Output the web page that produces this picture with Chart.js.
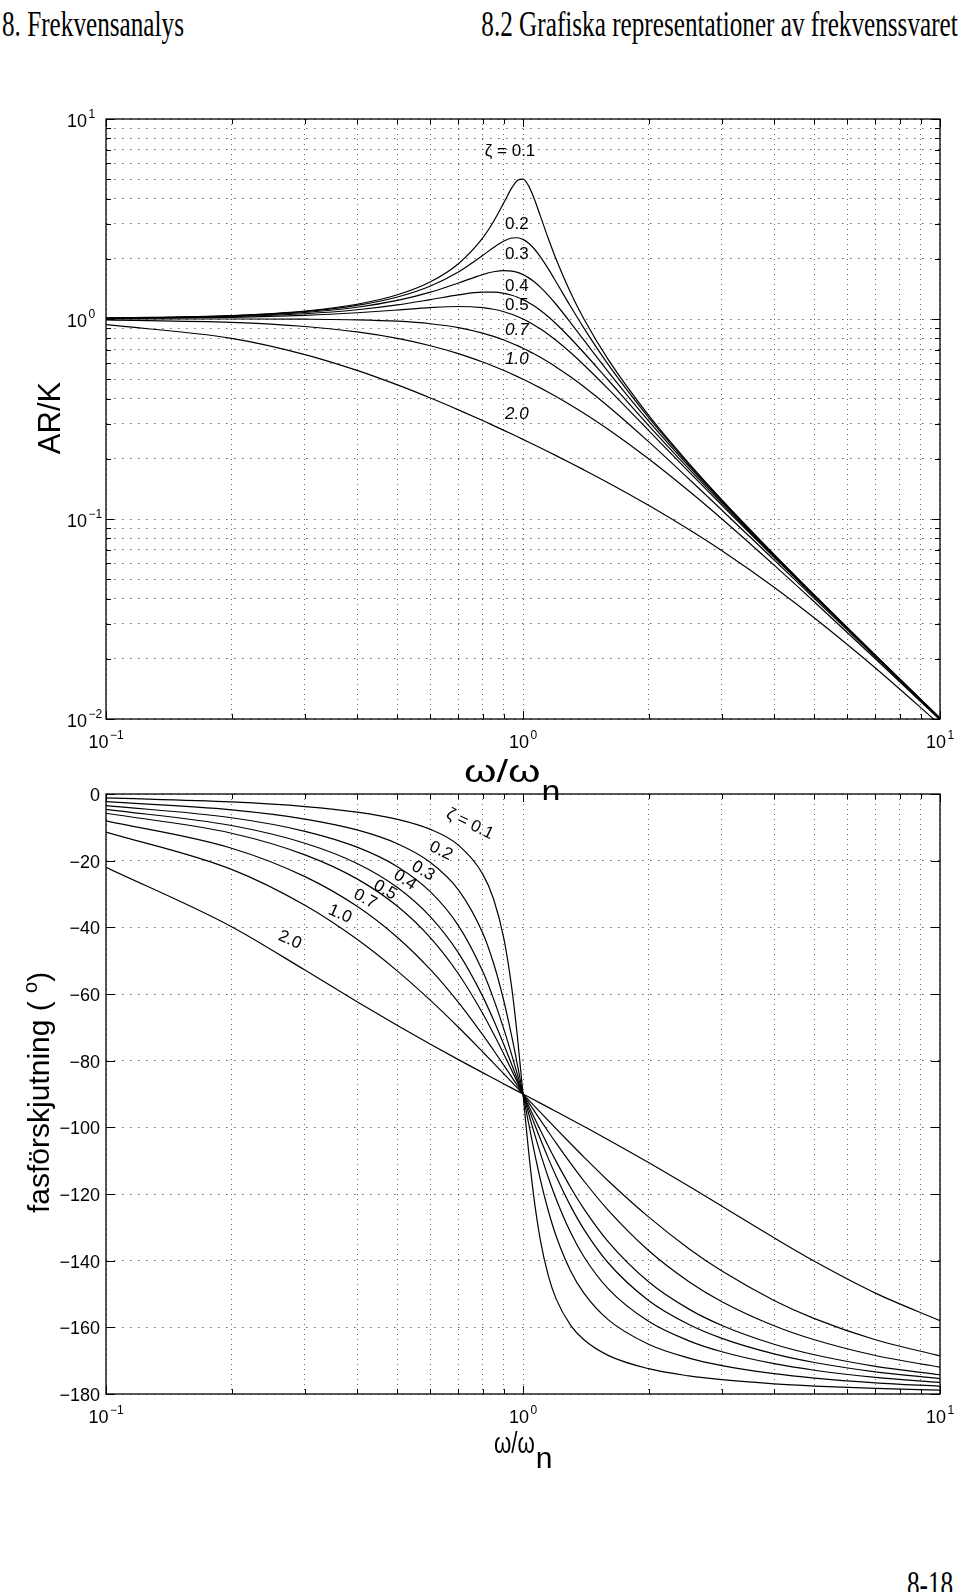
<!DOCTYPE html>
<html>
<head>
<meta charset="utf-8">
<script src="https://cdn.jsdelivr.net/npm/chart.js@4.4.1/dist/chart.umd.min.js"></script>
<style>
html, body { margin: 0; padding: 0; background: #fff; }
body { width: 960px; height: 1592px; position: relative; overflow: hidden; }
canvas { position: absolute; left: 0; }
#top { top: 0; }
#bot { top: 760px; }
.hd { position: absolute; font-family: "Liberation Serif", "Times New Roman", serif; font-size: 35px; line-height: 35px; white-space: nowrap; color: #000; }
#hl { left: 2px; top: 7px; transform: scaleX(0.72); transform-origin: left top; }
#hr { right: 2px; top: 7px; transform: scaleX(0.72); transform-origin: right top; }
#ft { right: 7px; top: 1567px; transform: scaleX(0.72); transform-origin: right top; }
</style>
</head>
<body>
<div class="hd" id="hl">8. Frekvensanalys</div>
<div class="hd" id="hr">8.2 Grafiska representationer av frekvenssvaret</div>
<canvas id="bot" width="960" height="780"></canvas>
<canvas id="top" width="960" height="800"></canvas>
<div class="hd" id="ft">8-18</div>
<script>
// frequency ratio w/wn
const freq = [0.1, 0.2, 0.3, 0.4, 0.5, 0.6, 0.7, 0.8, 0.85, 0.9, 0.94, 0.97, 1.0, 1.03, 1.06, 1.1, 1.15, 1.2, 1.3, 1.4, 1.6, 2, 2.5, 3, 4, 5, 7, 10];
const zetas = ['0.1', '0.2', '0.3', '0.4', '0.5', '0.7', '1.0', '2.0'];

// AR/K
const ar01 = [1.0099, 1.0408, 1.0965, 1.1851, 1.3216, 1.5357, 1.8908, 2.5384, 3.0728, 3.8208, 4.5225, 4.9309, 5.0, 4.6552, 4.0750, 3.2880, 2.5245, 1.9952, 1.3562, 1.0, 0.62795, 0.33041, 0.18962, 0.12465, 0.066572, 0.041631, 0.020824, 0.010099];
const ar02 = [1.0093, 1.0381, 1.0895, 1.1695, 1.2883, 1.4630, 1.7188, 2.0761, 2.2786, 2.4566, 2.5406, 2.5479, 2.5, 2.4011, 2.2642, 2.0511, 1.7800, 1.5357, 1.1574, 0.89977, 0.59306, 0.32208, 0.18711, 0.12362, 0.066291, 0.041523, 0.020798, 0.010093];
const ar03 = [1.0082, 1.0336, 1.0780, 1.1447, 1.2380, 1.3618, 1.5136, 1.6667, 1.7223, 1.7469, 1.7364, 1.7094, 1.6667, 1.6103, 1.5435, 1.4438, 1.3129, 1.1851, 0.96026, 0.78393, 0.54593, 0.30949, 0.18315, 0.12195, 0.065830, 0.041345, 0.020754, 0.010082];
const ar04 = [1.0068, 1.0275, 1.0626, 1.1125, 1.1765, 1.25, 1.3203, 1.3618, 1.3616, 1.3429, 1.3141, 1.2849, 1.25, 1.2103, 1.1669, 1.1053, 1.0258, 0.94694, 0.80123, 0.67790, 0.49556, 0.29412, 0.17800, 0.11973, 0.065199, 0.041099, 0.020693, 0.010068];
const ar05 = [1.0050, 1.0198, 1.0436, 1.0748, 1.1094, 1.1399, 1.1546, 1.1399, 1.1184, 1.0871, 1.0558, 1.0290, 1.0, 0.96918, 0.93705, 0.89296, 0.83727, 0.78240, 0.67945, 0.58909, 0.44750, 0.27735, 0.17197, 0.11704, 0.064416, 0.040791, 0.020615, 0.010050];
const ar07 = [1.0002, 1.0, 0.99776, 0.99054, 0.97474, 0.94694, 0.90518, 0.85003, 0.81838, 0.78478, 0.75692, 0.73568, 0.71429, 0.69286, 0.67153, 0.64340, 0.60902, 0.57582, 0.51377, 0.45820, 0.36634, 0.24369, 0.15848, 0.11067, 0.062456, 0.04, 0.020412, 0.010002];
const ar10 = [0.99010, 0.96154, 0.91743, 0.86207, 0.8, 0.73529, 0.67114, 0.60976, 0.58055, 0.55249, 0.53090, 0.51522, 0.5, 0.48522, 0.47090, 0.45249, 0.43057, 0.40984, 0.37175, 0.33784, 0.28090, 0.2, 0.13793, 0.1, 0.058824, 0.038462, 0.02, 0.009901];
const ar20 = [0.93655, 0.80023, 0.66400, 0.55337, 0.46816, 0.40260, 0.35136, 0.31054, 0.29314, 0.27739, 0.26583, 0.25770, 0.25, 0.24269, 0.23575, 0.22701, 0.21686, 0.20746, 0.19064, 0.17600, 0.15181, 0.11704, 0.088540, 0.069338, 0.045596, 0.032009, 0.017995, 0.0093655];

// fasförskjutning (grader)
const ph01 = [-1.16, -2.39, -3.77, -5.44, -7.59, -10.62, -15.35, -23.96, -31.49, -43.45, -58.24, -73.06, -90, -106.47, -120.24, -133.67, -144.51, -151.39, -159.35, -163.74, -168.41, -172.41, -174.56, -175.71, -176.95, -177.61, -178.33, -178.84];
const ph02 = [-2.31, -4.76, -7.51, -10.78, -14.93, -20.56, -28.77, -41.63, -50.78, -62.17, -72.80, -81.34, -90, -98.41, -106.25, -115.51, -125.03, -132.51, -143.00, -149.74, -157.69, -165.07, -169.22, -171.47, -173.91, -175.24, -176.66, -177.69];
const ph03 = [-3.47, -7.13, -11.19, -15.95, -21.80, -29.36, -39.47, -53.13, -61.45, -70.62, -78.34, -84.20, -90, -95.63, -101.00, -107.65, -115.05, -121.43, -131.50, -138.81, -148.39, -158.20, -164.05, -167.32, -170.91, -172.87, -175.00, -176.53];
const ph04 = [-4.62, -9.46, -14.77, -20.85, -28.07, -36.87, -47.68, -60.64, -67.80, -75.22, -81.20, -85.64, -90, -94.23, -98.29, -103.42, -109.31, -114.62, -123.56, -130.60, -140.63, -151.93, -159.15, -163.30, -167.96, -170.54, -173.35, -175.38];
const ph05 = [-5.77, -11.77, -18.25, -25.46, -33.69, -43.15, -53.92, -65.77, -71.92, -78.08, -82.94, -86.51, -90, -93.38, -96.65, -100.81, -105.66, -110.14, -117.96, -124.44, -134.27, -146.31, -154.54, -159.44, -165.07, -168.23, -171.70, -174.23];
const ph07 = [-8.05, -16.26, -24.78, -33.69, -43.03, -52.70, -62.50, -72.18, -76.87, -81.42, -84.95, -87.51, -90, -92.42, -94.76, -97.77, -101.33, -104.68, -110.76, -116.10, -124.85, -136.97, -146.31, -152.30, -159.53, -163.74, -168.46, -171.95];
const ph10 = [-11.42, -22.62, -33.40, -43.60, -53.13, -61.93, -69.98, -77.32, -80.72, -83.97, -86.46, -88.26, -90, -91.70, -93.33, -95.45, -97.98, -100.39, -104.86, -108.92, -116.01, -126.87, -136.40, -143.13, -151.93, -157.38, -163.74, -168.58];
const ph20 = [-22.00, -39.81, -52.83, -62.30, -69.44, -75.07, -79.68, -83.58, -85.33, -86.98, -88.23, -89.13, -90, -90.85, -91.67, -92.73, -94.01, -95.24, -97.56, -99.73, -103.70, -110.56, -117.70, -123.69, -133.15, -140.19, -149.74, -158.00];

// ticks
const xTicks = [0.1, 0.2, 0.3, 0.4, 0.5, 0.6, 0.7, 0.8, 0.9, 1, 2, 3, 4, 5, 6, 7, 8, 9, 10];
const xLabelVals = [0.1, 1, 10];
const arTicks = [0.01, 0.02, 0.03, 0.04, 0.05, 0.06, 0.07, 0.08, 0.09, 0.1, 0.2, 0.3, 0.4, 0.5, 0.6, 0.7, 0.8, 0.9, 1, 2, 3, 4, 5, 6, 7, 8, 9, 10];
const arLabelVals = [0.01, 0.1, 1, 10];
const phTicks = [-180, -160, -140, -120, -100, -80, -60, -40, -20, 0];

// curve notes (text anchors in data units)
const arNotes = ['ζ = 0.1', '0.2', '0.3', '0.4', '0.5', '0.7', '1.0', '2.0'];
const arNoteX = [0.931, 0.967, 0.967, 0.967, 0.967, 0.967, 0.967, 0.967];
const arNoteY = [6.92, 2.99, 2.11, 1.46, 1.175, 0.881, 0.631, 0.335];
const phNotes = ['ζ = 0.1', '0.2', '0.3', '0.4', '0.5', '0.7', '1.0', '2.0'];
const phNoteX = [0.746, 0.636, 0.576, 0.521, 0.467, 0.418, 0.364, 0.276];
const phNoteY = [-9.0, -17.1, -23.1, -25.8, -28.8, -31.5, -36.0, -43.8];
const phNoteAngle = [26, 26, 30, 33, 30, 28, 24, 24];

const FONT = '"Liberation Sans", Arial, Helvetica, sans-serif';
const isPow10 = v => Math.abs(Math.log10(Math.abs(v)) - Math.round(Math.log10(Math.abs(v)))) < 1e-9;

function lines(series) {
  return series.map((s, i) => ({
    label: 'ζ = ' + zetas[i],
    data: freq.map((f, j) => ({x: f, y: s[j]})),
    borderColor: '#000',
    borderWidth: 1.2,
    pointRadius: 0,
    fill: false,
    tension: 0.4,
    cubicInterpolationMode: 'monotone'
  }));
}

function xScale() {
  return {
    type: 'logarithmic', min: 0.1, max: 10,
    afterBuildTicks: ax => { ax.ticks = xTicks.map(v => ({value: v})); },
    ticks: {display: false},
    grid: {color: 'rgba(0,0,0,0.6)', lineWidth: 1, drawTicks: false},
    border: {display: false, dash: [1, 4]}
  };
}

function drawPow(ctx, exp, x, y, anchor) {
  const sup = exp < 0 ? '\u2212' + (-exp) : String(exp);
  ctx.font = '18px ' + FONT;
  const wb = ctx.measureText('10').width;
  ctx.font = '12px ' + FONT;
  const ws = ctx.measureText(sup).width;
  const left = anchor === 'right' ? x - wb : x - (wb + ws + 1.5) / 2;
  ctx.textAlign = 'left';
  ctx.textBaseline = 'alphabetic';
  ctx.font = '18px ' + FONT;
  ctx.fillText('10', left, y);
  ctx.font = '12px ' + FONT;
  ctx.fillText(sup, left + wb + 1.5, y - 9);
}

// w/wn title, omegas stretched by sq, subscript n
function drawOmega(ctx, leftX, base, size, sq, nSize, nDrop) {
  ctx.save();
  ctx.font = size + 'px ' + FONT;
  ctx.textBaseline = 'alphabetic';
  ctx.textAlign = 'left';
  const w = ctx.measureText('ω/ω').width * sq;
  ctx.translate(leftX, base);
  ctx.scale(sq, 1);
  ctx.fillText('ω/ω', 0, 0);
  ctx.restore();
  ctx.font = nSize + 'px ' + FONT;
  ctx.textAlign = 'left';
  ctx.fillText('n', leftX + w + 1, base + nDrop);
}

function makeDeco(cfg) {
  return {
    id: 'deco',
    afterDraw(chart) {
      const {ctx, chartArea: a} = chart;
      const sx = chart.scales.x, sy = chart.scales.y;
      ctx.save();
      ctx.strokeStyle = '#000';
      ctx.fillStyle = '#000';
      ctx.lineWidth = 1;
      ctx.beginPath();
      xTicks.forEach(v => {
        const px = Math.round(sx.getPixelForValue(v)) + 0.5;
        const len = isPow10(v) ? 8 : 5;
        ctx.moveTo(px, a.bottom); ctx.lineTo(px, a.bottom - len);
        ctx.moveTo(px, a.top); ctx.lineTo(px, a.top + len);
      });
      cfg.yTicks.forEach(v => {
        const py = Math.round(sy.getPixelForValue(v)) + 0.5;
        const len = cfg.log ? (isPow10(v) ? 8 : 5) : 9;
        ctx.moveTo(a.left, py); ctx.lineTo(a.left + len, py);
        ctx.moveTo(a.right, py); ctx.lineTo(a.right - len, py);
      });
      ctx.stroke();
      ctx.lineWidth = 1.3;
      ctx.strokeRect(a.left, a.top, a.right - a.left, a.bottom - a.top);

      // x tick labels
      xLabelVals.forEach(v => {
        drawPow(ctx, Math.round(Math.log10(v)), sx.getPixelForValue(v), a.bottom + cfg.xLabelDy, 'center');
      });
      // y tick labels
      if (cfg.log) {
        arLabelVals.forEach(v => {
          drawPow(ctx, Math.round(Math.log10(v)), a.left - 19, sy.getPixelForValue(v) + 7.5, 'right');
        });
      } else {
        ctx.font = '18px ' + FONT;
        ctx.textAlign = 'right';
        ctx.textBaseline = 'alphabetic';
        phTicks.forEach(v => {
          const t = v < 0 ? '\u2212' + (-v) : String(v);
          ctx.fillText(t, a.left - 6, sy.getPixelForValue(v) + 7);
        });
      }
      cfg.extra(ctx, a, sx, sy);
      ctx.restore();
    }
  };
}

const topDeco = makeDeco({
  log: true, yTicks: arTicks, xLabelDy: 28.5,
  extra(ctx, a, sx, sy) {
    arNotes.forEach((t, i) => {
      const it = i >= 5 ? 'italic ' : '';
      ctx.font = it + '17px ' + FONT;
      ctx.textAlign = 'center';
      ctx.textBaseline = 'middle';
      ctx.fillText(t, sx.getPixelForValue(arNoteX[i]), sy.getPixelForValue(arNoteY[i]));
    });
    ctx.save();
    ctx.translate(60, 418);
    ctx.rotate(-Math.PI / 2);
    ctx.font = '31px ' + FONT;
    ctx.textAlign = 'center';
    ctx.textBaseline = 'alphabetic';
    ctx.fillText('AR/K', 0, 0);
    ctx.restore();
    drawOmega(ctx, 464, 782, 32, 1.3, 34, 12);
  }
});

const botDeco = makeDeco({
  log: false, yTicks: phTicks, xLabelDy: 29,
  extra(ctx, a, sx, sy) {
    phNotes.forEach((t, i) => {
      ctx.save();
      ctx.translate(sx.getPixelForValue(phNoteX[i]), sy.getPixelForValue(phNoteY[i]));
      ctx.rotate(phNoteAngle[i] * Math.PI / 180);
      ctx.font = '17px ' + FONT;
      ctx.textAlign = 'center';
      ctx.textBaseline = 'middle';
      ctx.fillText(t, 0, 0);
      ctx.restore();
    });
    ctx.save();
    ctx.translate(49, 1213 - 760);
    ctx.rotate(-Math.PI / 2);
    ctx.textAlign = 'left';
    ctx.textBaseline = 'alphabetic';
    ctx.font = '30px ' + FONT;
    const s1 = 'fasförskjutning ( ';
    ctx.fillText(s1, 0, 0);
    let w = ctx.measureText(s1).width;
    ctx.font = '20px ' + FONT;
    ctx.fillText('o', w, -12);
    w += ctx.measureText('o').width;
    ctx.font = '30px ' + FONT;
    ctx.fillText(')', w, 0);
    ctx.restore();
    drawOmega(ctx, 494, 1453 - 760, 30, 0.74, 30, 15);
  }
});

const common = {
  responsive: false,
  animation: false,
  events: [],
  plugins: {legend: {display: false}, tooltip: {enabled: false}}
};

new Chart(document.getElementById('top'), {
  type: 'line',
  data: {datasets: lines([ar01, ar02, ar03, ar04, ar05, ar07, ar10, ar20])},
  options: Object.assign({}, common, {
    layout: {padding: {left: 106, right: 20, top: 119, bottom: 81}},
    scales: {
      x: xScale(),
      y: {
        type: 'logarithmic', min: 0.01, max: 10,
        afterBuildTicks: ax => { ax.ticks = arTicks.map(v => ({value: v})); },
        ticks: {display: false},
        grid: {color: 'rgba(0,0,0,0.6)', lineWidth: 1, drawTicks: false},
        border: {display: false, dash: [1.5, 6.5]}
      }
    }
  }),
  plugins: [topDeco]
});

new Chart(document.getElementById('bot'), {
  type: 'line',
  data: {datasets: lines([ph01, ph02, ph03, ph04, ph05, ph07, ph10, ph20])},
  options: Object.assign({}, common, {
    layout: {padding: {left: 106, right: 20, top: 34, bottom: 146}},
    scales: {
      x: xScale(),
      y: {
        type: 'linear', min: -180, max: 0,
        afterBuildTicks: ax => { ax.ticks = phTicks.map(v => ({value: v})); },
        ticks: {display: false},
        grid: {color: 'rgba(0,0,0,0.6)', lineWidth: 1, drawTicks: false},
        border: {display: false, dash: [1.5, 6.5]}
      }
    }
  }),
  plugins: [botDeco]
});
</script>
</body>
</html>
